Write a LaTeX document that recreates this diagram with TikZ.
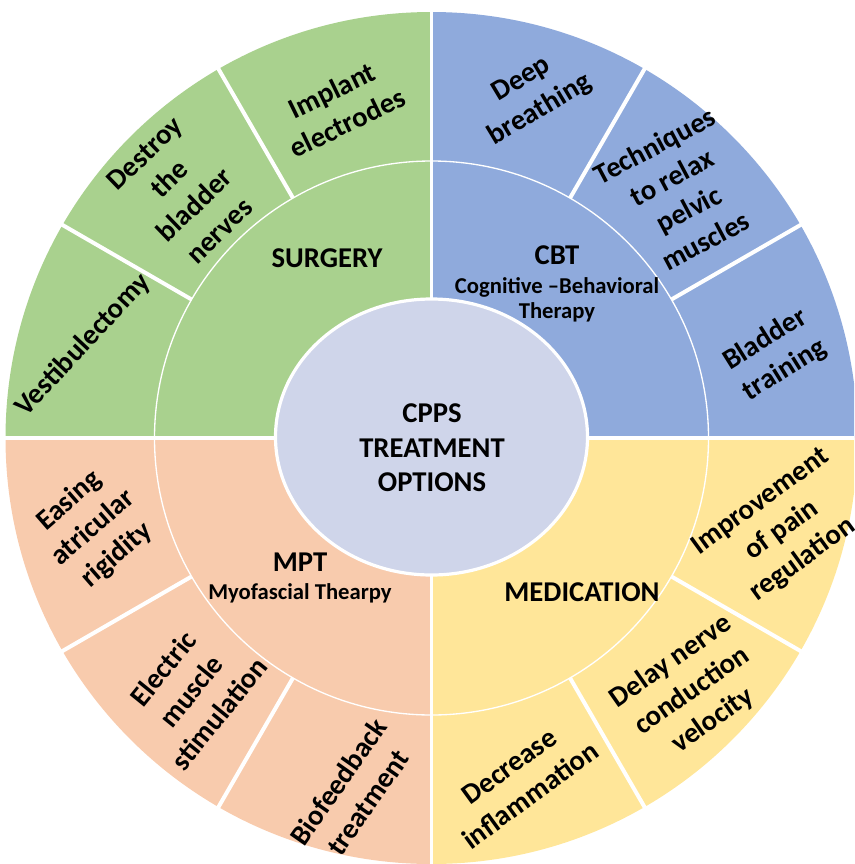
\documentclass[tikz,border=0pt]{standalone}
\usepackage{fontspec}
\setmainfont{Carlito}

\tikzset{every picture/.style={line width=0.75pt}}
\tikzset{
  leaf/.style={font=\bfseries\fontsize{21.5}{27}\selectfont, align=center, inner sep=0.75pt},
  branch/.style={font=\bfseries\fontsize{21.5}{26}\selectfont, align=center, inner sep=0.75pt},
  branchsub/.style={font=\bfseries\fontsize{17}{19}\selectfont, align=center, inner sep=0.75pt},
  divider/.style={color=white, line width=3pt},
}

\begin{document}
\begin{tikzpicture}[x=0.75pt,y=0.75pt,yscale=-1,xscale=1]
\path[use as bounding box] (0,0) rectangle (854,864);
\clip (0,0) rectangle (854,864);
%Shape: Sector surgery
\fill [fill={rgb, 255:red, 169; green, 209; blue, 142 }] (431.5,438) -- (431.5,12) arc [start angle=-90, end angle=-180, radius=426] -- cycle ;
%Shape: Sector cbt
\fill [fill={rgb, 255:red, 143; green, 170; blue, 220 }] (431.5,438) -- (857.5,438) arc [start angle=0, end angle=-90, radius=426] -- cycle ;
%Shape: Sector mpt
\fill [fill={rgb, 255:red, 248; green, 203; blue, 173 }] (431.5,438) -- (5.5,438) arc [start angle=180, end angle=90, radius=426] -- cycle ;
%Shape: Sector medication
\fill [fill={rgb, 255:red, 255; green, 230; blue, 153 }] (431.5,438) -- (431.5,864) arc [start angle=90, end angle=0, radius=426] -- cycle ;
%Straight Lines quadrant gaps
\draw [color=white, line width=2.6pt] (431.5,0) -- (431.5,864) ;
\draw [color=white, line width=2.6pt] (0,438) -- (854,438) ;
%Shape: Circle inner ring
\draw [color=white, line width=1pt] (431.5,438) circle [radius=277] ;
%Straight Lines sector dividers
\draw [divider] (671.4,299.5) -- (802.2,224) ;
\draw [divider] (570,198.1) -- (645.5,67.3) ;
\draw [divider] (293,198.1) -- (217.5,67.3) ;
\draw [divider] (191.6,299.5) -- (60.8,224) ;
\draw [divider] (191.6,576.5) -- (60.8,652) ;
\draw [divider] (293,677.9) -- (217.5,808.7) ;
\draw [divider] (570,677.9) -- (645.5,808.7) ;
\draw [divider] (671.4,576.5) -- (802.2,652) ;
%Shape: Ellipse core
\draw [color=white, line width=2.4pt, fill={rgb, 255:red, 207; green, 213; blue, 234 }] (431.5,437) ellipse [x radius=156, y radius=138] ;

% Text Node
\node [branch] (core) at (432,448) {CPPS\\TREATMENT\\OPTIONS};
% Text Node
\node [branch] (surgery) at (327,258) {SURGERY};
% Text Node
\node [branch] (cbt) at (557,255) {CBT};
% Text Node
\node [branchsub] (cbtsub) at (557,300) {Cognitive –Behavioral\\Therapy};
% Text Node
\node [branch] (mpt) at (300,562) {MPT};
% Text Node
\node [branchsub] (mptsub) at (300,593) {Myofascial Thearpy};
% Text Node
\node [branch] (medication) at (582,592) {MEDICATION};

% Text Node
\node [leaf, rotate=47] (vestib) at (83,345) {Vestibulectomy};
% Text Node
\node [leaf, rotate=44] (destroy) at (182,192) {Destroy\\the\\bladder\\nerves};
% Text Node
\node [leaf, rotate=26] (implant) at (339.5,106.5) {Implant\\electrodes};
% Text Node
\node [leaf, rotate=31] (breathing) at (531,95) {Deep\\breathing};
% Text Node
\node [leaf, rotate=28] (relax) at (680,193) {Techniques\\to relax\\pelvic\\muscles};
% Text Node
\node [leaf, rotate=32] (bladder) at (775,355) {Bladder\\training};
% Text Node
\node [leaf, rotate=41] (easing) at (93,528) {Easing\\atricular\\rigidity};
% Text Node
\node [leaf, rotate=51] (electric) at (191,691) {Electric\\muscle\\stimulation};
% Text Node
\node [leaf, rotate=55] (biofeedback) at (353,792) {Biofeedback\\treatment};
% Text Node
\node [leaf, rotate=36] (decrease) at (520,781) {Decrease\\inflammation};
% Text Node
\node [leaf, rotate=35] (delay) at (692,691) {Delay nerve\\conduction\\velocity};
% Text Node
\node [leaf, rotate=36] (improve) at (782,531) {Improvement\\of pain\\regulation};
\end{tikzpicture}
\end{document}
